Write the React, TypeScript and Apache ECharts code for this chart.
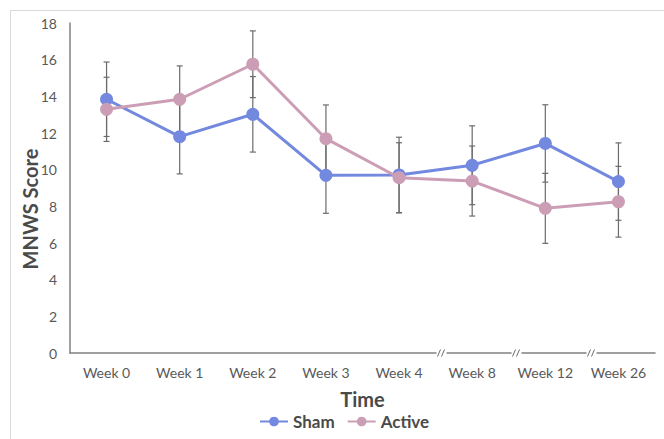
import React, { useEffect, useRef } from "react";
import * as echarts from "echarts";

const categories = ["Week 0", "Week 1", "Week 2", "Week 3", "Week 4", "Week 8", "Week 12", "Week 26"];
const shamValues = [13.84, 11.8, 13.02, 9.69, 9.71, 10.24, 11.43, 9.35];
const activeValues = [13.29, 13.84, 15.75, 11.69, 9.56, 9.38, 7.89, 8.25];
const shamErr = [2.03, 2.03, 2.06, 2.07, 2.06, 2.15, 2.11, 2.11];
const activeErr = [1.75, 1.82, 1.82, 1.84, 1.91, 1.91, 1.91, 1.93];
const yTicks = { min: 0, max: 18, interval: 2 };

const SHAM = "#7388DF";
const ACTIVE = "#CC9EB5";
const TEXT = "#595959";
const TITLE = "#4a4a4a";
const FONT = "Lato, 'Open Sans', sans-serif";

function errorData(vals: number[], errs: number[]) {
  return vals.map((v, i) => [i, v - errs[i], v + errs[i]]);
}

function renderErr(params: any, api: any) {
  const x = api.value(0);
  const lo = api.coord([x, api.value(1)]);
  const hi = api.coord([x, api.value(2)]);
  const cw = 3;
  const style = { stroke: "#6b6b6b", lineWidth: 1.2 };
  return {
    type: "group",
    children: [
      { type: "line", shape: { x1: lo[0], y1: lo[1], x2: hi[0], y2: hi[1] }, style },
      { type: "line", shape: { x1: lo[0] - cw, y1: lo[1], x2: lo[0] + cw, y2: lo[1] }, style },
      { type: "line", shape: { x1: hi[0] - cw, y1: hi[1], x2: hi[0] + cw, y2: hi[1] }, style },
    ],
  };
}

function breakMark(cx: number, cy: number) {
  const s = { stroke: "#6b6b6b", lineWidth: 1 };
  return [
    { type: "rect", z: 100, shape: { x: cx - 5, y: cy - 3, width: 10, height: 6 }, style: { fill: "#fff" } },
    { type: "line", z: 101, shape: { x1: cx - 4, y1: cy + 3.5, x2: cx - 1, y2: cy - 3.5 }, style: s },
    { type: "line", z: 101, shape: { x1: cx, y1: cy + 3.5, x2: cx + 3, y2: cy - 3.5 }, style: s },
  ];
}

export default function App() {
  const ref = useRef<HTMLDivElement>(null);
  useEffect(() => {
    if (!ref.current) return;
    const chart = echarts.init(ref.current, null, { renderer: "svg" });
    chart.setOption({
      animation: false,
      backgroundColor: "#fff",
      textStyle: { fontFamily: FONT },
      grid: { left: 70, right: 9, top: 23, bottom: 86 },
      legend: {
        left: 254,
        top: 408,
        itemWidth: 28,
        itemHeight: 12,
        itemGap: 12,
        textStyle: { color: TITLE, fontSize: 17, fontWeight: "bold", fontFamily: FONT },
        data: ["Sham", "Active"],
      },
      xAxis: {
        type: "category",
        data: categories,
        boundaryGap: true,
        axisLine: { lineStyle: { color: "#808080", width: 1.5 } },
        axisTick: { show: false },
        axisLabel: { color: TEXT, fontSize: 14, margin: 12, fontFamily: FONT },
        name: "Time",
        nameLocation: "middle",
        nameGap: 36,
        nameTextStyle: { color: TITLE, fontSize: 20, fontWeight: "bold", fontFamily: FONT },
      },
      yAxis: {
        type: "value",
        min: yTicks.min,
        max: yTicks.max,
        interval: yTicks.interval,
        axisLine: { show: true, lineStyle: { color: "#808080", width: 1.5 } },
        axisTick: { show: false },
        splitLine: { show: false },
        axisLabel: { color: TEXT, fontSize: 14, margin: 13, fontFamily: FONT },
      },
      graphic: [
        { type: "line", shape: { x1: 10, y1: 10.5, x2: 664, y2: 10.5 }, style: { stroke: "#d9d9d9", lineWidth: 1 } },
        { type: "line", shape: { x1: 10.5, y1: 10, x2: 10.5, y2: 439 }, style: { stroke: "#d9d9d9", lineWidth: 1 } },
        {
          type: "text",
          x: 30,
          y: 209,
          rotation: Math.PI / 2,
          style: {
            text: "MNWS Score",
            fill: TITLE,
            fontSize: 20,
            fontWeight: "bold",
            fontFamily: FONT,
            align: "center",
            verticalAlign: "middle",
          },
        },
        ...breakMark(441.5, 353),
        ...breakMark(516.5, 353),
        ...breakMark(591.5, 353),
      ],
      series: [
        {
          type: "custom",
          name: "shamErr",
          renderItem: renderErr,
          data: errorData(shamValues, shamErr),
          z: 1,
          silent: true,
        },
        {
          type: "custom",
          name: "activeErr",
          renderItem: renderErr,
          data: errorData(activeValues, activeErr),
          z: 1,
          silent: true,
        },
        {
          type: "line",
          name: "Sham",
          data: shamValues,
          color: SHAM,
          symbol: "circle",
          symbolSize: 13,
          lineStyle: { width: 3, color: SHAM },
          itemStyle: { color: SHAM },
          z: 3,
        },
        {
          type: "line",
          name: "Active",
          data: activeValues,
          color: ACTIVE,
          symbol: "circle",
          symbolSize: 13,
          lineStyle: { width: 3, color: ACTIVE },
          itemStyle: { color: ACTIVE },
          z: 4,
        },
      ],
    });
    return () => chart.dispose();
  }, []);
  return <div ref={ref} style={{ width: 664, height: 439, position: "absolute", left: 0, top: 0 }} />;
}
